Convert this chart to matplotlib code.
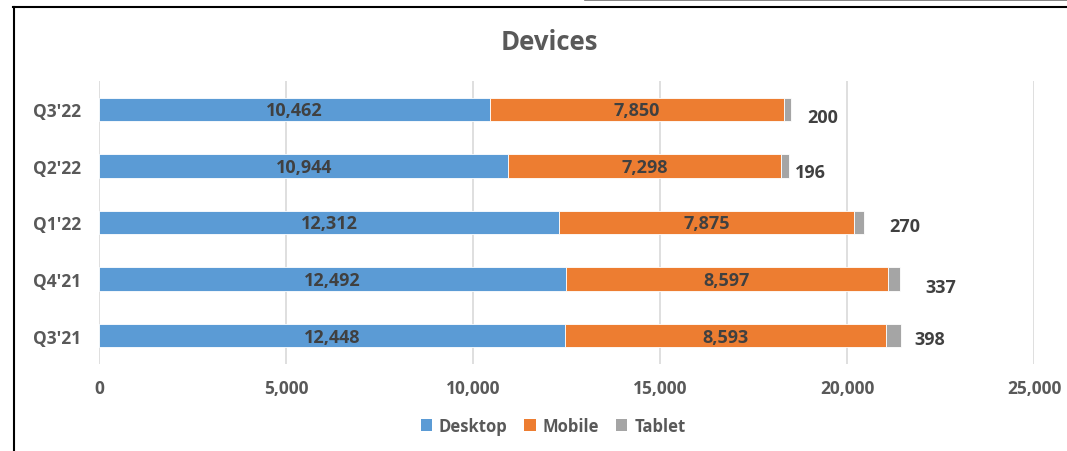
import matplotlib.pyplot as plt
from matplotlib.lines import Line2D
from matplotlib.patches import Patch

plt.rcParams['font.family'] = ['Open Sans', 'DejaVu Sans']

quarters = ["Q3'21", "Q4'21", "Q1'22", "Q2'22", "Q3'22"]
desktop = [12448, 12492, 12312, 10944, 10462]
mobile = [8593, 8597, 7875, 7298, 7850]
tablet = [398, 337, 270, 196, 200]

series_names = ['Desktop', 'Mobile', 'Tablet']
colors = ['#5B9BD5', '#ED7D31', '#A5A5A5']
# pixel offsets of the tablet labels from the bar ends, as placed in the original
tablet_offsets = [(29, -3), (40, -8), (41, -4), (22, -6), (31, -8)]

fig = plt.figure(figsize=(10.67, 4.52), dpi=100)
ax = fig.add_axes([99 / 1067, 1 - 365 / 452, (1034 - 99) / 1067, (365 - 82) / 452])

y = list(range(len(quarters)))
h = 0.41
ax.barh(y, desktop, height=h, color=colors[0], edgecolor='white', linewidth=0.6, zorder=3)
ax.barh(y, mobile, left=desktop, height=h, color=colors[1], edgecolor='white', linewidth=0.6, zorder=3)
left3 = [d + m for d, m in zip(desktop, mobile)]
ax.barh(y, tablet, left=left3, height=h, color=colors[2], edgecolor='white', linewidth=0.6, zorder=3)

lab_kw = dict(fontsize=13, fontweight='bold', color='#404040', va='center', ha='center')
for i in y:
    ax.annotate(f'{desktop[i]:,}', (desktop[i] / 2, i), xytext=(0, -1),
                textcoords='offset pixels', zorder=4, **lab_kw)
    ax.annotate(f'{mobile[i]:,}', (desktop[i] + mobile[i] / 2, i), xytext=(0, -1),
                textcoords='offset pixels', zorder=4, **lab_kw)
    ax.annotate(f'{tablet[i]:,}', (left3[i] + tablet[i], i), xytext=tablet_offsets[i],
                textcoords='offset pixels', **lab_kw)

ax.set_xlim(0, 25000)
ax.set_ylim(-0.5, 4.5)
ax.set_xticks([0, 5000, 10000, 15000, 20000, 25000])
ax.set_xticklabels(['0', '5,000', '10,000', '15,000', '20,000', '25,000'])
ax.set_yticks(y)
ax.set_yticklabels(quarters)
ax.grid(axis='x', color='#D9D9D9', linewidth=1.2, zorder=0)
for s in ax.spines.values():
    s.set_visible(False)
ax.tick_params(length=0, labelsize=12.5, labelcolor='#595959')
ax.tick_params(axis='x', pad=11)
ax.tick_params(axis='y', pad=13)
for t in ax.get_xticklabels() + ax.get_yticklabels():
    t.set_fontweight('bold')

fig.text(549 / 1067, 1 - 43 / 452, 'Devices', ha='center', va='center',
         fontsize=18.5, fontweight='bold', color='#595959')

handles = [Patch(facecolor=c, label=n) for c, n in zip(colors, series_names)]
fig.legend(handles=handles, loc='center', bbox_to_anchor=(553 / 1067, 1 - 427 / 452), ncol=3,
           frameon=False, handlelength=0.7, handleheight=0.7, handletextpad=0.4,
           columnspacing=1.0, prop={'weight': 'bold', 'size': 12}, labelcolor='#595959')

# chart frame lines
fig.add_artist(Line2D([13.5 / 1067, 13.5 / 1067], [0, 1 - 8 / 452], color='black', linewidth=1.5))
fig.add_artist(Line2D([13 / 1067, 1], [1 - 8 / 452, 1 - 8 / 452], color='black', linewidth=1.5))
fig.add_artist(Line2D([585 / 1067, 1], [1 - 1 / 452, 1 - 1 / 452], color='#707070', linewidth=1.2))

fig.savefig('out.png', dpi=100)
